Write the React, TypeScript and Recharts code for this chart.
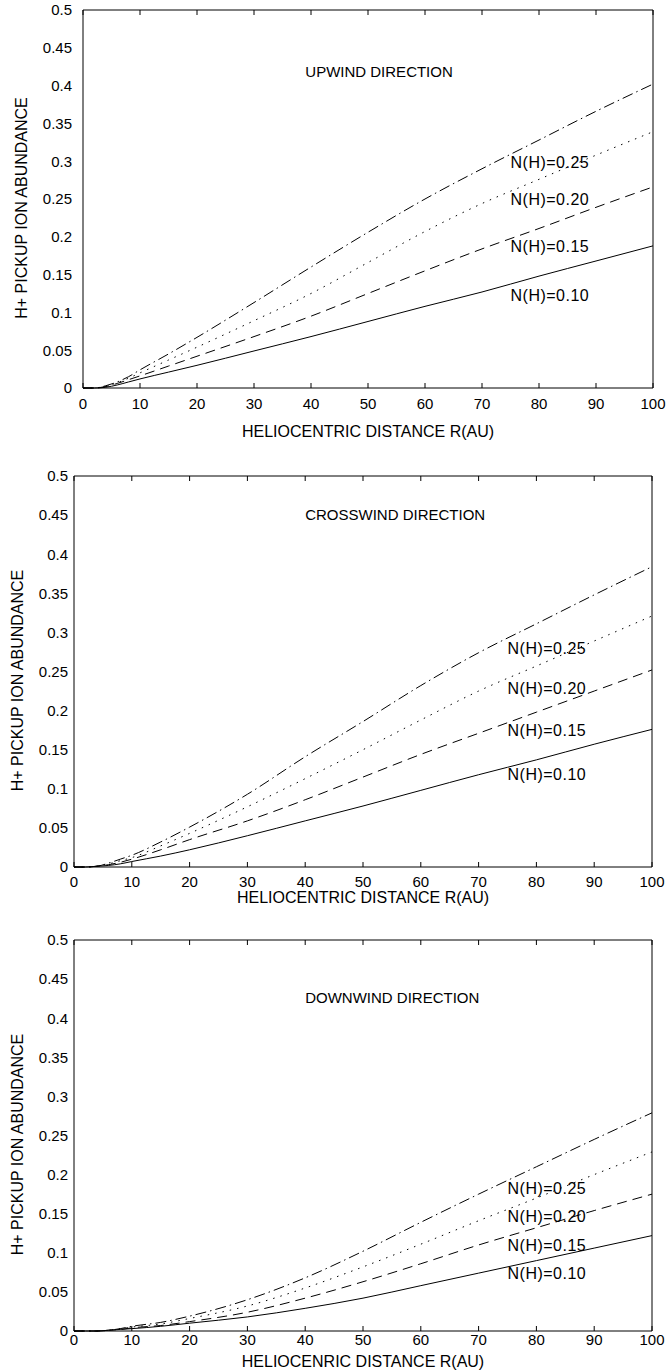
import React from 'react';
import { LineChart, Line, XAxis, YAxis, ReferenceDot } from 'recharts';

// heliocentric distance (AU) at which the curves were read
const distance = [0, 2, 4, 6, 8, 10, 15, 20, 30, 40, 50, 60, 70, 80, 90, 100];
const xTicks = [0, 10, 20, 30, 40, 50, 60, 70, 80, 90, 100];
const yTicks = [0, 0.05, 0.1, 0.15, 0.2, 0.25, 0.3, 0.35, 0.4, 0.45, 0.5];
const densityLabels = ['N(H)=0.10', 'N(H)=0.15', 'N(H)=0.20', 'N(H)=0.25'];

// upwind
const up010 = [0, 0, 0.001, 0.004, 0.008, 0.012, 0.021, 0.03, 0.049, 0.068, 0.088, 0.108, 0.127, 0.148, 0.168, 0.188];
const up015 = [0, 0, 0.002, 0.006, 0.011, 0.016, 0.029, 0.042, 0.068, 0.095, 0.125, 0.155, 0.184, 0.211, 0.239, 0.266];
const up020 = [0, 0, 0.002, 0.007, 0.013, 0.02, 0.037, 0.054, 0.089, 0.125, 0.166, 0.207, 0.244, 0.276, 0.308, 0.339];
const up025 = [0, 0, 0.003, 0.008, 0.015, 0.024, 0.045, 0.067, 0.113, 0.16, 0.206, 0.25, 0.29, 0.328, 0.366, 0.402];

// crosswind
const cross010 = [0, 0, 0.001, 0.002, 0.004, 0.007, 0.014, 0.022, 0.04, 0.059, 0.078, 0.098, 0.118, 0.137, 0.157, 0.176];
const cross015 = [0, 0, 0.001, 0.003, 0.006, 0.01, 0.022, 0.035, 0.059, 0.086, 0.115, 0.144, 0.171, 0.198, 0.225, 0.252];
const cross020 = [0, 0, 0.001, 0.004, 0.008, 0.012, 0.027, 0.043, 0.077, 0.113, 0.15, 0.188, 0.225, 0.257, 0.289, 0.321];
const cross025 = [0, 0, 0.001, 0.005, 0.01, 0.015, 0.032, 0.051, 0.093, 0.141, 0.186, 0.232, 0.274, 0.311, 0.348, 0.384];

// downwind
const down010 = [0, 0, 0, 0.001, 0.002, 0.003, 0.006, 0.01, 0.018, 0.029, 0.042, 0.058, 0.074, 0.09, 0.106, 0.122];
const down015 = [0, 0, 0, 0.001, 0.002, 0.004, 0.007, 0.012, 0.024, 0.042, 0.063, 0.086, 0.11, 0.132, 0.154, 0.175];
const down020 = [0, 0, 0, 0.001, 0.003, 0.005, 0.009, 0.016, 0.032, 0.055, 0.082, 0.111, 0.141, 0.17, 0.2, 0.229];
const down025 = [0, 0, 0, 0.001, 0.003, 0.006, 0.011, 0.019, 0.04, 0.068, 0.102, 0.139, 0.175, 0.21, 0.245, 0.279];

// where the N(H) labels sit, in data units
const upLabelY = [0.123, 0.187, 0.249, 0.299];
const crossLabelY = [0.118, 0.175, 0.228, 0.28];
const downLabelY = [0.074, 0.11, 0.147, 0.183];

const dashes = ['', '10 6', '1.5 6', '11 4 1.5 4'];
const FONT = '"Liberation Sans", Arial, Helvetica, sans-serif';

const makeRows = (series: number[][]) =>
  distance.map((d, i) => ({ d, n0: series[0][i], n1: series[1][i], n2: series[2][i], n3: series[3][i] }));

const panels = [
  {
    title: 'UPWIND DIRECTION', titleX: 39, titleY: 0.418,
    xTitle: 'HELIOCENTRIC DISTANCE R(AU)',
    series: [up010, up015, up020, up025], labelY: upLabelY,
    top: 0, height: 450, plotH: 378, left: 83, right: 16, xAxisH: 52,
    xTickGap: 10, yTickGap: 11, xTitleOff: 38, yTitleX: 21, yTitleShift: 9,
  },
  {
    title: 'CROSSWIND DIRECTION', titleX: 40, titleY: 0.45,
    xTitle: 'HELIOCENTRIC DISTANCE R(AU)',
    series: [cross010, cross015, cross020, cross025], labelY: crossLabelY,
    top: 466, height: 450, plotH: 391, left: 74, right: 17, xAxisH: 40,
    xTickGap: 9, yTickGap: 6, xTitleOff: 25, yTitleX: 17, yTitleShift: 9,
  },
  {
    title: 'DOWNWIND DIRECTION', titleX: 40, titleY: 0.426,
    xTitle: 'HELIOCENRIC DISTANCE R(AU)',
    series: [down010, down015, down020, down025], labelY: downLabelY,
    top: 930, height: 442, plotH: 391, left: 74, right: 17, xAxisH: 32,
    xTickGap: 3, yTickGap: 6, xTitleOff: 25, yTitleX: 17, yTitleShift: 9,
  },
];

const tickStyle = { fill: '#000', fontSize: 15, fontFamily: FONT };
const blank = () => '';

function Panel({ p }: { p: (typeof panels)[number] }) {
  const rows = makeRows(p.series);
  const bottom = p.height - 10 - p.plotH - p.xAxisH;
  const xCommon = { dataKey: 'd', type: 'number' as const, domain: [0, 100], ticks: xTicks };
  const yCommon = { type: 'number' as const, domain: [0, 0.5], ticks: yTicks };
  return (
    <div style={{ position: 'absolute', left: 0, top: p.top }}>
      <LineChart width={669} height={p.height} data={rows} margin={{ top: 10, right: p.right, left: 0, bottom }}>
        {/* labelled axes */}
        <XAxis
          {...xCommon} stroke="#000" tickLine={false} tickSize={0} tickMargin={p.xTickGap}
          tick={tickStyle} height={p.xAxisH}
          label={{ value: p.xTitle, position: 'insideTop', offset: p.xTitleOff, fill: '#000', fontSize: 16, fontFamily: FONT }}
        />
        <YAxis
          {...yCommon} stroke="#000" tickLine={false} tickSize={0} tickMargin={p.yTickGap}
          tick={tickStyle} width={p.left}
          label={{
            content: (lp: any) => {
              const vb = lp.viewBox;
              const x = vb.x + p.yTitleX;
              const y = vb.y + vb.height / 2 + p.yTitleShift;
              return (
                <text x={x} y={y} transform={`rotate(-90, ${x}, ${y})`} textAnchor="middle"
                  dominantBaseline="central" fill="#000" fontSize={16} fontFamily={FONT}>
                  H+ PICKUP ION ABUNDANCE
                </text>
              );
            },
          }}
        />
        {/* frame and inward ticks on all four sides (mirrored axes take no space) */}
        <XAxis {...xCommon} xAxisId="top" orientation="top" stroke="#000" mirror tickSize={5} tickFormatter={blank} height={1} />
        <XAxis {...xCommon} xAxisId="bottomTicks" orientation="bottom" stroke="#000" mirror axisLine={false} tickSize={5} tickFormatter={blank} height={1} />
        <YAxis {...yCommon} yAxisId="right" orientation="right" stroke="#000" mirror tickSize={5} tickFormatter={blank} width={1} />
        <YAxis {...yCommon} yAxisId="leftTicks" orientation="left" stroke="#000" mirror axisLine={false} tickSize={5} tickFormatter={blank} width={1} />
        {dashes.map((da, i) => (
          <Line
            key={i} type="monotone" dataKey={`n${i}`} stroke="#000" strokeWidth={1}
            strokeDasharray={da || undefined} dot={false} activeDot={false} isAnimationActive={false}
          />
        ))}
        {densityLabels.map((t, i) => (
          <ReferenceDot
            key={t} x={75} y={p.labelY[i]} r={0} fill="none" stroke="none"
            label={{ value: t, position: 'right', offset: 0, fill: '#000', fontSize: 16, letterSpacing: 0.5, fontFamily: FONT }}
          />
        ))}
        <ReferenceDot
          x={p.titleX} y={p.titleY} r={0} fill="none" stroke="none"
          label={{ value: p.title, position: 'right', offset: 0, fill: '#000', fontSize: 15, fontFamily: FONT }}
        />
      </LineChart>
    </div>
  );
}

export default function App() {
  return (
    <div style={{ position: 'absolute', left: 0, top: 0, width: 669, height: 1372, background: '#fff', fontFamily: FONT }}>
      {panels.map((p) => (
        <Panel key={p.title} p={p} />
      ))}
    </div>
  );
}
